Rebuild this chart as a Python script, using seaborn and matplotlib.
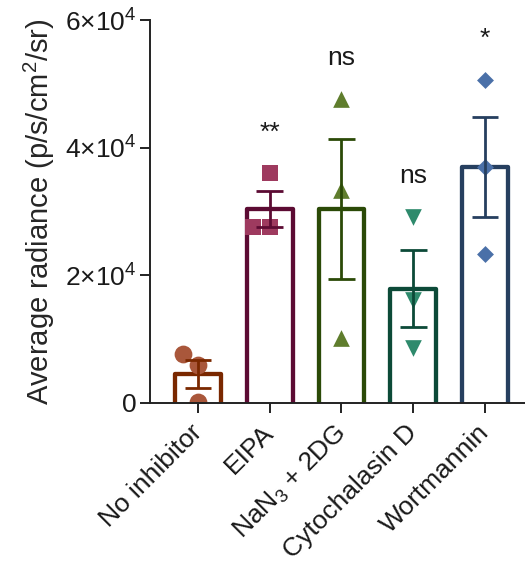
import matplotlib
matplotlib.use("Agg")
import matplotlib.pyplot as plt
import matplotlib.transforms as mtransforms
import seaborn as sns
import pandas as pd

# ---- data ----
groups = ["No inhibitor", "EIPA", "NaN$_3$ + 2DG", "Cytochalasin D", "Wortmannin"]
no_inhibitor = [7600, 5900, 200]
eipa = [36000, 27500, 27600]
nan3_2dg = [47600, 33400, 10200]
cytochalasin_d = [29100, 16100, 8600]
wortmannin = [50600, 37000, 23300]
significance = ["", "**", "ns", "ns", "*"]
ytick_values = [0, 20000, 40000, 60000]
ytick_labels = ["0", "2×10$^4$", "4×10$^4$", "6×10$^4$"]

values = [no_inhibitor, eipa, nan3_2dg, cytochalasin_d, wortmannin]
bar_colors = ["#7a2800", "#5c0b33", "#2b4a07", "#0c4a38", "#263f5f"]
point_colors = ["#a9573b", "#9e3a5f", "#5f7d2d", "#2e8a6c", "#4a70a8"]
markers = ["o", "s", "^", "v", "D"]
marker_sizes = [12.8, 11.5, 12.0, 12.0, 8.6]

df = pd.DataFrame({
    "group": [g for g, v in zip(groups, values) for _ in v],
    "value": [x for v in values for x in v],
})

sns.set_style("ticks")
plt.rcParams["font.family"] = ["Liberation Sans", "DejaVu Sans"]
plt.rcParams["mathtext.fontset"] = "custom"
plt.rcParams["mathtext.rm"] = "Liberation Sans"
plt.rcParams["mathtext.it"] = "Liberation Sans:italic"
plt.rcParams["mathtext.bf"] = "Liberation Sans:bold"

fig = plt.figure(figsize=(5.25, 5.69), dpi=100)
ax = fig.add_axes([150 / 525, 1 - 403 / 569, 375 / 525, 383 / 569])

for i, g in enumerate(groups):
    sub = df[df["group"] == g]
    sns.swarmplot(data=sub, x="group", y="value", order=groups, color=point_colors[i],
                  marker=markers[i], size=marker_sizes[i], linewidth=0, ax=ax, zorder=3)
    sns.barplot(data=sub, x="group", y="value", order=groups, color=bar_colors[i],
                fill=False, errorbar="se", capsize=0.37, width=0.64, linewidth=3.1,
                err_kws={"color": bar_colors[i], "linewidth": 2.0, "zorder": 4,
                         "solid_capstyle": "butt"},
                ax=ax)

# push bar bottoms below the axis so no bottom edge shows
for p in ax.patches:
    h = p.get_height()
    p.set_y(-3000)
    p.set_height(h + 3000)
    p.set_joinstyle("round")
    p.set_zorder(2)

# significance labels
for i, (g, s) in enumerate(zip(groups, significance)):
    if s:
        ax.text(i, max(values[i]) + 5300, s, ha="center", va="baseline",
                fontsize=19, color="#1a1a1a")

ax.set_xlim(-0.667, 4.556)
ax.set_ylim(0, 60000)
ax.set_yticks(ytick_values)
ax.set_yticklabels(ytick_labels)
ax.set_xlabel("")
ax.set_ylabel("Average radiance (p/s/cm$^2$/sr)", fontsize=21, labelpad=6)
ax.set_xticks(range(len(groups)))
ax.set_xticklabels(groups, rotation=45, ha="right", rotation_mode="anchor")
ax.tick_params(axis="both", labelsize=19, length=7.5, width=1.4, color="#222222",
               labelcolor="#1a1a1a", direction="out")
ax.tick_params(axis="y", pad=2)
ax.tick_params(axis="x", pad=5)
offset = mtransforms.ScaledTranslation(-0.08, 0.0, fig.dpi_scale_trans)
for lab in ax.get_xticklabels():
    lab.set_transform(lab.get_transform() + offset)
sns.despine(ax=ax)
for sp in ["left", "bottom"]:
    ax.spines[sp].set_linewidth(1.4)
    ax.spines[sp].set_color("#222222")
    ax.spines[sp].set_zorder(5)

fig.savefig("out.png", dpi=100)
